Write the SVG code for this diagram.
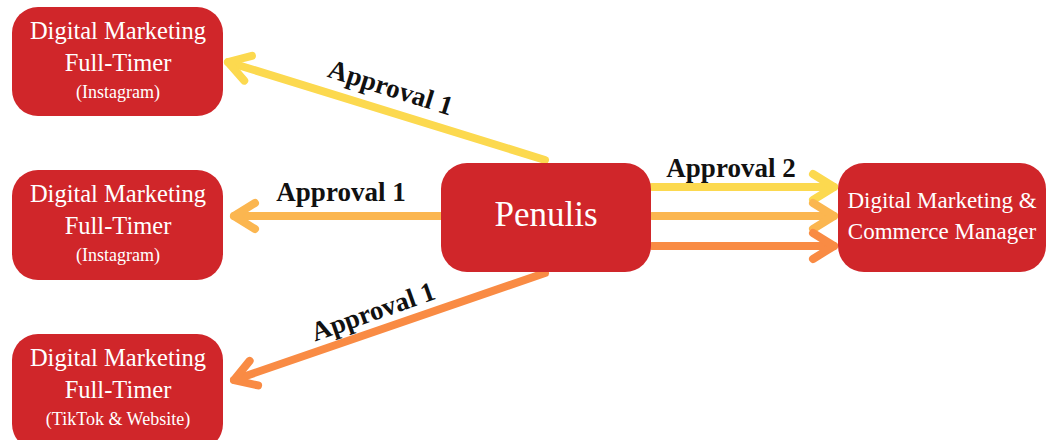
<svg xmlns="http://www.w3.org/2000/svg" width="1048" height="440" viewBox="0 0 1048 440">
<style>
.box{fill:#D0262A;}
.t{font-family:"Liberation Serif","Times New Roman",serif;fill:#fff;text-anchor:middle;}
.big{font-size:24.5px;}
.sm{font-size:18px;}
.lbl{font-family:"Liberation Serif","Times New Roman",serif;font-weight:bold;font-size:27px;fill:#111;text-anchor:middle;}
.c{fill:none;stroke-width:8;stroke-linecap:round;stroke-linejoin:round;}
.y{stroke:#FCD94F;}
.o1{stroke:#FBB650;}
.o2{stroke:#F98B44;}
</style>
<defs>
<marker id="my" markerUnits="userSpaceOnUse" viewBox="-30 -20 36 40" refX="0" refY="0" markerWidth="36" markerHeight="40" orient="auto" overflow="visible"><path d="M-21 -13 L0 0 L-21 13" fill="none" stroke="#FCD94F" stroke-width="8" stroke-linecap="round" stroke-linejoin="round"/></marker>
<marker id="mo1" markerUnits="userSpaceOnUse" viewBox="-30 -20 36 40" refX="0" refY="0" markerWidth="36" markerHeight="40" orient="auto" overflow="visible"><path d="M-21 -13 L0 0 L-21 13" fill="none" stroke="#FBB650" stroke-width="8" stroke-linecap="round" stroke-linejoin="round"/></marker>
<marker id="mo2" markerUnits="userSpaceOnUse" viewBox="-30 -20 36 40" refX="0" refY="0" markerWidth="36" markerHeight="40" orient="auto" overflow="visible"><path d="M-21 -13 L0 0 L-21 13" fill="none" stroke="#F98B44" stroke-width="8" stroke-linecap="round" stroke-linejoin="round"/></marker>
</defs>
<rect width="1048" height="440" fill="#fff"/>
<g id="connectors">
<line class="c y" x1="545" y1="160" x2="228" y2="62" marker-end="url(#my)"/>
<line class="c o1" x1="442" y1="216" x2="234" y2="216" marker-end="url(#mo1)"/>
<line class="c o2" x1="545" y1="273" x2="234" y2="380" marker-end="url(#mo2)"/>
<line class="c y" x1="652" y1="187" x2="834" y2="187" marker-end="url(#my)"/>
<line class="c o1" x1="652" y1="216" x2="834" y2="216" marker-end="url(#mo1)"/>
<line class="c o2" x1="652" y1="246" x2="834" y2="246" marker-end="url(#mo2)"/>
<text class="lbl" transform="translate(388 96) rotate(17.5)">Approval 1</text>
<text class="lbl" x="341" y="201">Approval 1</text>
<text class="lbl" transform="translate(376 320) rotate(-19.5)">Approval 1</text>
<text class="lbl" x="731" y="177">Approval 2</text>
</g>
<g id="n1"><rect class="box" x="12" y="7" width="211" height="109" rx="26"/>
<text class="t big" x="118" y="39">Digital Marketing</text><text class="t big" x="118" y="71">Full-Timer</text><text class="t sm" x="118" y="98">(Instagram)</text></g>
<g id="n2"><rect class="box" x="12" y="170" width="211" height="110" rx="26"/>
<text class="t big" x="118" y="202">Digital Marketing</text><text class="t big" x="118" y="234">Full-Timer</text><text class="t sm" x="118" y="261">(Instagram)</text></g>
<g id="n3"><rect class="box" x="12" y="334" width="211" height="116" rx="26"/>
<text class="t big" x="118" y="366">Digital Marketing</text><text class="t big" x="118" y="398">Full-Timer</text><text class="t sm" x="118" y="425">(TikTok &amp; Website)</text></g>
<g id="penulis"><rect class="box" x="441" y="163" width="210" height="109" rx="26"/>
<text class="t" x="546" y="226" font-size="35">Penulis</text></g>
<g id="manager"><rect class="box" x="838" y="163" width="208" height="109" rx="26"/>
<text class="t" x="942" y="208" font-size="23">Digital Marketing &amp;</text><text class="t" x="942" y="239" font-size="23">Commerce Manager</text></g>
</svg>
